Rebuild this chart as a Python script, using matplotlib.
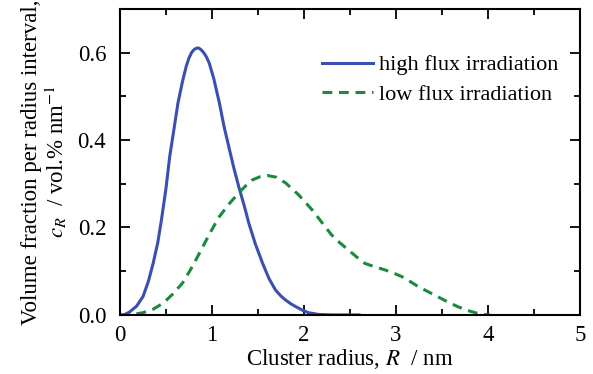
import numpy as np
import matplotlib
matplotlib.use("Agg")
import matplotlib.pyplot as plt
from matplotlib.ticker import MultipleLocator

plt.rcParams['font.family'] = ['Liberation Serif', 'DejaVu Serif']
plt.rcParams['mathtext.fontset'] = 'stix'

# high flux irradiation
r_high = [0.0, 0.04, 0.1, 0.18, 0.25, 0.31, 0.36, 0.41, 0.45, 0.5, 0.54, 0.59, 0.63, 0.68,
          0.72, 0.75, 0.78, 0.81, 0.83, 0.845, 0.86, 0.88, 0.91, 0.94, 0.97, 1.02, 1.08,
          1.13, 1.19, 1.24, 1.29, 1.35, 1.40, 1.47, 1.55, 1.62, 1.69, 1.75, 1.8, 1.86,
          1.91, 1.98, 2.05, 2.16, 2.3, 2.45, 2.6]
c_high = [0.0, 0.0, 0.006, 0.02, 0.042, 0.078, 0.118, 0.165, 0.217, 0.29, 0.362, 0.43,
          0.485, 0.535, 0.569, 0.588, 0.601, 0.608, 0.610, 0.611, 0.610, 0.607, 0.600,
          0.590, 0.576, 0.540, 0.485, 0.432, 0.378, 0.334, 0.294, 0.25, 0.21, 0.163,
          0.118, 0.083, 0.057, 0.043, 0.034, 0.025, 0.019, 0.011, 0.005, 0.001, 0.0,
          0.0, 0.0]

# low flux irradiation
r_low = [0.0, 0.1, 0.25, 0.36, 0.47, 0.57, 0.68, 0.79, 0.90, 0.99, 1.08, 1.19, 1.29,
         1.37, 1.44, 1.52, 1.60, 1.70, 1.80, 1.94, 2.09, 2.2, 2.30, 2.39, 2.48, 2.57,
         2.66, 2.77, 2.88, 2.97, 3.06, 3.15, 3.24, 3.35, 3.45, 3.56, 3.67, 3.78, 3.88,
         3.95, 4.02]
c_low = [0.0, 0.0, 0.005, 0.013, 0.027, 0.047, 0.073, 0.112, 0.156, 0.192, 0.225, 0.255,
         0.279, 0.296, 0.309, 0.316, 0.319, 0.315, 0.302, 0.275, 0.24, 0.21, 0.183,
         0.165, 0.149, 0.133, 0.118, 0.11, 0.103, 0.096, 0.088, 0.077, 0.065, 0.053,
         0.042, 0.03, 0.019, 0.01, 0.004, 0.001, 0.0]

fig = plt.figure(figsize=(5.93, 3.74), dpi=100)
ax = fig.add_axes([0.2024, 0.158, 0.7756, 0.818])

ax.plot(r_high, c_high, color='#3b4fb3', lw=2.2, label='high flux irradiation')
ax.plot(r_low, c_low, color='#1b8a3c', lw=2.2, dashes=(3.2, 2.2),
        label='low flux irradiation')

ax.set_xlim(0, 5)
ax.set_ylim(0, 0.7)
ax.xaxis.set_minor_locator(MultipleLocator(0.5))
ax.yaxis.set_minor_locator(MultipleLocator(0.1))
ax.set_xticks([0, 1, 2, 3, 4, 5])
ax.set_xticklabels(['0', '1', '2', '3', '4', '5'])
ax.set_yticks([0.0, 0.2, 0.4, 0.6])
ax.set_yticklabels(['0.0', '0.2', '0.4', '0.6'])

ax.tick_params(which='both', direction='in', top=True, right=True, width=1.3,
               labelsize=16.5)
ax.tick_params(which='major', length=7)
ax.tick_params(which='minor', length=4)
ax.tick_params(axis='x', which='major', pad=7)
ax.tick_params(axis='y', which='major', pad=10)
for s in ax.spines.values():
    s.set_linewidth(1.5)

ax.set_xlabel('Cluster radius, $R$  / nm', fontsize=16.5, labelpad=1)
ax.set_ylabel('Volume fraction per radius interval,\n$c_R$  / vol.% nm$^{-1}$',
              fontsize=16.5, linespacing=1.05, labelpad=6)

ax.legend(loc='upper left', frameon=False, fontsize=16, handlelength=2.3,
          handletextpad=0.25, borderaxespad=0, borderpad=0, labelspacing=0.4,
          bbox_to_anchor=(0.439, 0.85))

fig.savefig('out.png', dpi=100)
